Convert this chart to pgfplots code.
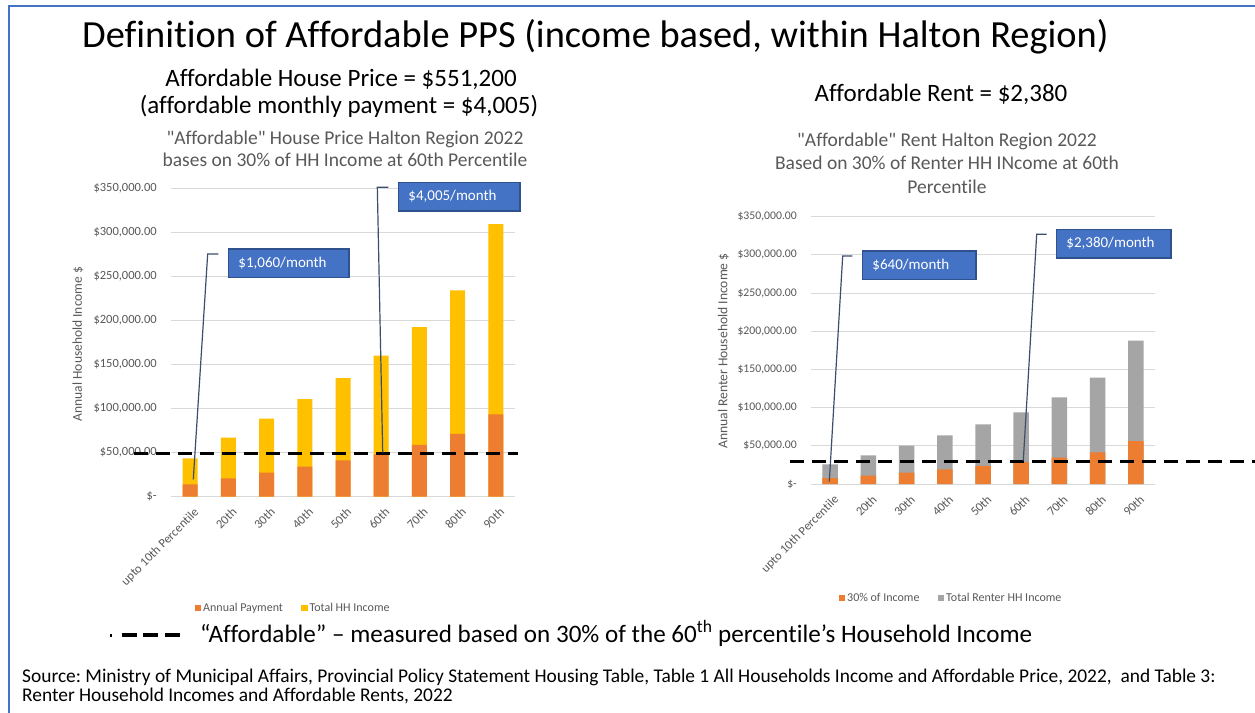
\documentclass[border=0pt]{standalone}
\usepackage{pgfplots}
\pgfplotsset{compat=1.18}
\usepackage{fontspec}
\setmainfont{Carlito}[Ligatures=NoCommon]
\frenchspacing
\definecolor{orangeC}{HTML}{ED7D31}
\definecolor{yellowC}{HTML}{FFC000}
\definecolor{greyC}{HTML}{A5A5A5}
\definecolor{boxblue}{HTML}{4472C4}
\definecolor{boxborder}{HTML}{2F528F}
\definecolor{leaderC}{HTML}{3B4E6B}
\definecolor{textgrey}{HTML}{595959}
\definecolor{gridC}{HTML}{D9D9D9}
\pgfplotsset{
  common/.style={
    scale only axis, width=344pt,
    xmin=-0.5, xmax=8.5, ymin=0, ymax=350000,
    clip=false,
    axis line style={draw=none},
    major tick length=0pt,
    ymajorgrids, grid style={draw=gridC, line width=1pt},
    scaled y ticks=false,
    ytick={0,50000,100000,150000,200000,250000,300000,350000},
    xtick={0,1,2,3,4,5,6,7,8},
    xticklabels={upto 10th Percentile,20th,30th,40th,50th,60th,70th,80th,90th},
    xticklabel style={font=\fontsize{12.5}{14}\selectfont, text=textgrey, xshift=3pt, yshift=-10pt, rotate=45, anchor=north east, inner sep=0pt},
    legend style={anchor=center, draw=none, fill=none, legend columns=2,
      font=\fontsize{12}{14}\selectfont, text=textgrey,
      /tikz/every even column/.append style={column sep=16pt}},
    legend image code/.code={\fill[#1] (0pt,-3.3pt) rectangle (6.6pt,3.3pt);},
  },
}
\tikzset{
  callout/.style={fill=boxblue, draw=boxborder, line width=1.5pt, text=white,
    font=\fontsize{15}{17}\selectfont, inner xsep=10pt, inner ysep=0pt,
    minimum height=28.5pt, align=left, anchor=west},
}
\begin{document}
\begin{tikzpicture}
\fill[white] (0pt,0pt) rectangle (1255pt,-712pt);
\draw[boxblue, line width=2pt] (9pt,-713pt) -- (9pt,-6pt) -- (1256pt,-6pt);

% headings
\node[anchor=base, inner sep=0pt, font=\fontsize{38.4}{42}\selectfont] at (595.5pt,-47.5pt) {Definition of Affordable PPS (income based, within Halton Region)};
\node[anchor=base, inner sep=0pt, font=\fontsize{25}{28}\selectfont] at (341pt,-86pt) {Affordable House Price = \$551,200};
\node[anchor=base, inner sep=0pt, font=\fontsize{25}{28}\selectfont] at (339pt,-113pt) {(affordable monthly payment = \$4,005)};
\node[anchor=base, inner sep=0pt, font=\fontsize{25}{28}\selectfont] at (941pt,-101pt) {Affordable Rent = \$2,380};

\node[anchor=base, inner sep=0pt, font=\fontsize{19.5}{22}\selectfont, text=textgrey] at (345pt,-144.5pt) {\textquotedbl Affordable\textquotedbl\ House Price Halton Region 2022};
\node[anchor=base, inner sep=0pt, font=\fontsize{19.5}{22}\selectfont, text=textgrey] at (345pt,-166pt) {bases on 30\% of HH Income at 60th Percentile};
\node[anchor=base, inner sep=0pt, font=\fontsize{19.5}{22}\selectfont, text=textgrey] at (947pt,-146.5pt) {\textquotedbl Affordable\textquotedbl\ Rent Halton Region 2022};
\node[anchor=base, inner sep=0pt, font=\fontsize{19.5}{22}\selectfont, text=textgrey] at (947pt,-169.5pt) {Based on 30\% of Renter HH INcome at 60th};
\node[anchor=base, inner sep=0pt, font=\fontsize{19.5}{22}\selectfont, text=textgrey] at (947pt,-193pt) {Percentile};

% ---------- left chart ----------
\begin{axis}[common,
  at={(171pt,-496.6pt)}, anchor=south west, height=307.9pt,
  yticklabels={{\$-\hspace{5pt}},{\$50,000.00},{\$100,000.00},{\$150,000.00},{\$200,000.00},{\$250,000.00},{\$300,000.00},{\$350,000.00}},
  yticklabel style={font=\fontsize{12.5}{14}\selectfont, text=textgrey, inner sep=0pt, xshift=-14pt},
  legend style={at={(0.355,-0.362)}},
]
\addlegendimage{fill=orangeC, draw=none}
\addlegendentry{Annual Payment}
\addlegendimage{fill=yellowC, draw=none}
\addlegendentry{Total HH Income}
\addplot[ybar, bar width=15pt, bar shift=0pt, fill=yellowC, draw=none, forget plot] coordinates
  {(0,43600) (1,67000) (2,88600) (3,110700) (4,134600) (5,160200) (6,192600) (7,234300) (8,309800)};
\addplot[ybar, bar width=15pt, bar shift=0pt, fill=orangeC, draw=none, forget plot] coordinates
  {(0,14000) (1,20800) (2,27200) (3,34000) (4,41300) (5,48060) (6,58700) (7,71200) (8,93600)};
\addplot[black, line width=3.5pt, dash pattern=on 14pt off 8pt, forget plot] coordinates
  {(-1.47,49000) (8.58,49000)};
\draw[leaderC, line width=1.2pt] (axis cs:0.7375,275770) -- (axis cs:0.460,275770) -- (axis cs:0.0834,19666);
\draw[leaderC, line width=1.2pt] (axis cs:5.185,351590) -- (axis cs:4.898,351590) -- (axis cs:5.039,49903);
\node[callout, text width=100.6pt] at (axis cs:0.9834,265370) {\$1,060/month};
\node[callout, text width=101.6pt] at (axis cs:5.431,341140) {\$4,005/month};
\end{axis}

% ---------- right chart ----------
\begin{axis}[common,
  at={(811pt,-484pt)}, anchor=south west, height=267.3pt,
  yticklabels={{\$-\hspace{6pt}},{\$50,000.00},{\$100,000.00},{\$150,000.00},{\$200,000.00},{\$250,000.00},{\$300,000.00},{\$350,000.00}},
  yticklabel style={font=\fontsize{11.7}{14}\selectfont, text=textgrey, inner sep=0pt, xshift=-14pt},
  legend style={at={(0.407,-0.4265)}},
]
\addlegendimage{fill=orangeC, draw=none}
\addlegendentry{30\% of Income}
\addlegendimage{fill=greyC, draw=none}
\addlegendentry{Total Renter HH Income}
\addplot[ybar, bar width=15.5pt, bar shift=0pt, fill=greyC, draw=none, forget plot] coordinates
  {(0,25600) (1,37500) (2,50200) (3,63700) (4,78100) (5,93800) (6,113500) (7,139200) (8,187600)};
\addplot[ybar, bar width=15.5pt, bar shift=0pt, fill=orangeC, draw=none, forget plot] coordinates
  {(0,7680) (1,11000) (2,15000) (3,19200) (4,23600) (5,28560) (6,34500) (7,41400) (8,56200)};
\addplot[black, line width=3.5pt, dash pattern=on 14pt off 8pt, forget plot] coordinates
  {(-1.05,29500) (11.3,29500)};
\draw[leaderC, line width=1.2pt] (axis cs:0.5805,298540) -- (axis cs:0.329,298540) -- (axis cs:-0.0212,3012);
\draw[leaderC, line width=1.2pt] (axis cs:5.6666,326950) -- (axis cs:5.405,326950) -- (axis cs:5.054,30510);
\node[callout, text width=93.6pt] at (axis cs:0.8265,286300) {\$640/month};
\node[callout, text width=94.3pt] at (axis cs:5.902,314700) {\$2,380/month};
\end{axis}

% y labels
\node[rotate=90, inner sep=0pt, font=\fontsize{13.5}{16}\selectfont, text=textgrey] at (78pt,-344pt) {Annual Household Income \$};
\node[rotate=90, inner sep=0pt, font=\fontsize{13.6}{16}\selectfont, text=textgrey] at (723.5pt,-351pt) {Annual Renter Household Income \$};

% bottom legend for dashed line
\fill[black] (110pt,-637pt) rectangle (111.5pt,-633.5pt);
\draw[black, line width=4pt, dash pattern=on 15pt off 6.7pt] (121.7pt,-635.3pt) -- (180pt,-635.3pt);
\node[anchor=base west, inner sep=0pt, font=\fontsize{25.1}{28}\selectfont] at (200pt,-642pt) {“Affordable” – measured based on 30\% of the 60\textsuperscript{th} percentile’s Household Income};

% source
\node[anchor=base west, inner sep=0pt, font=\fontsize{19.4}{21}\selectfont] at (22pt,-682pt) {Source: Ministry of Municipal Affairs, Provincial Policy Statement Housing Table, Table 1 All Households Income and Affordable Price, 2022,\ \ and Table 3:};
\node[anchor=base west, inner sep=0pt, font=\fontsize{19.4}{21}\selectfont] at (22pt,-701.5pt) {Renter Household Incomes and Affordable Rents, 2022};

\pgfresetboundingbox
\useasboundingbox (0pt,0pt) rectangle (1255pt,-712pt);
\end{tikzpicture}
\end{document}
